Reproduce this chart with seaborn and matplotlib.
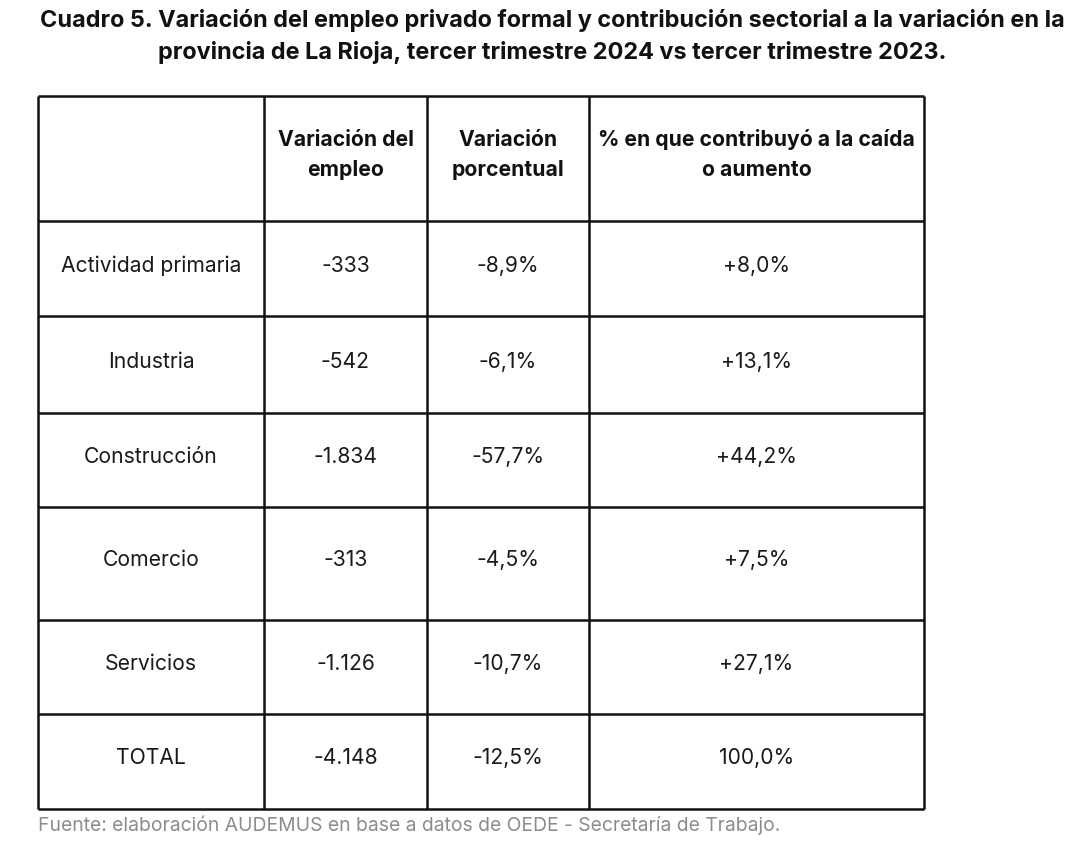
import matplotlib.pyplot as plt
import seaborn as sns

# Table content
sectors = ["Actividad primaria", "Industria", "Construcción", "Comercio", "Servicios", "TOTAL"]
empleo_var = ["-333", "-542", "-1.834", "-313", "-1.126", "-4.148"]
porc_var = ["-8,9%", "-6,1%", "-57,7%", "-4,5%", "-10,7%", "-12,5%"]
contrib = ["+8,0%", "+13,1%", "+44,2%", "+7,5%", "+27,1%", "100,0%"]
headers = ["", "Variación del\nempleo", "Variación\nporcentual", "% en que contribuyó a la caída\no aumento"]

title = ("Cuadro 5. Variación del empleo privado formal y contribución sectorial a la variación en la\n"
         "provincia de La Rioja, tercer trimestre 2024 vs tercer trimestre 2023.")
source = "Fuente: elaboración AUDEMUS en base a datos de OEDE - Secretaría de Trabajo."

# Layout (in pixels of the output image)
col_edges = [38, 264, 427, 589, 924]
row_edges = [96, 221, 316, 413, 507, 620, 714, 809]

sns.set_theme(style="white")
plt.rcParams["font.family"] = ["Inter", "DejaVu Sans"]

fig = plt.figure(figsize=(10.83, 8.59), dpi=100)
ax = fig.add_axes([0, 0, 1, 1])
ax.set_xlim(0, 1083)
ax.set_ylim(859, 0)
ax.axis("off")

# Grid lines
ax.hlines(row_edges, col_edges[0], col_edges[-1], color="#111111", linewidth=1.8)
ax.vlines(col_edges, row_edges[0], row_edges[-1], color="#111111", linewidth=1.8)

col_mid = [(a + b) / 2 for a, b in zip(col_edges[:-1], col_edges[1:])]
row_mid = [(a + b) / 2 for a, b in zip(row_edges[:-1], row_edges[1:])]

# Header row (two lines each, in the upper part of the cell)
for x, h in zip(col_mid, headers):
    for k, line in enumerate(h.split("\n") if h else []):
        ax.text(x, 140 + 30 * k, line, ha="center", va="center", fontsize=15.2,
                fontweight="bold", color="#111111")

columns = [sectors, empleo_var, porc_var, contrib]
for j, col in enumerate(columns):
    for i, val in enumerate(col):
        ax.text(col_mid[j], row_mid[i + 1] - 3, val, ha="center", va="center",
                fontsize=15.2, color="#1a1a1a")

for k, line in enumerate(title.split("\n")):
    ax.text(552, 20 + 32 * k, line, ha="center", va="center", fontsize=16.9,
            fontweight="bold", color="#111111")
ax.text(38, 825, source, ha="left", va="center", fontsize=13.9, color="#8c8c8c")

plt.savefig("out.png", dpi=100)
